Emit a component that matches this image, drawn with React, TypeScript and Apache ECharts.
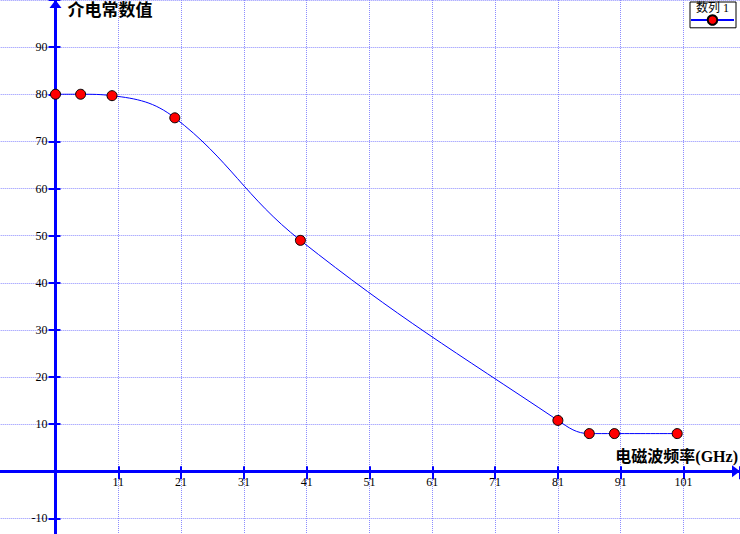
import React, { useEffect, useRef } from 'react';
import * as echarts from 'echarts';

// ---- data ----
const SERIES_NAME = '数列 1';
const X_TITLE = '电磁波频率(GHz)';
const Y_TITLE = '介电常数值';
// frequency (GHz) and dielectric constant values
const frequency = [1, 5, 10, 20, 40, 81, 86, 90, 100];
const permittivity = [80, 80, 79.7, 75, 49, 10.8, 8, 8, 8];
// the y axis crosses the x axis at x = 1; x ticks are 1, 11, 21, ... 101
const X_ORIGIN = 1;
const X_TICK_LABELS = [11, 21, 31, 41, 51, 61, 71, 81, 91, 101];
const Y_TICK_LABELS = [-10, 10, 20, 30, 40, 50, 60, 70, 80, 90];

const FONT = "'Liberation Serif', 'Noto Sans CJK SC', serif";
const AXIS_BLUE = '#0000ff';
const GRID_BLUE = '#8c8cff';

const W = 740;
const H = 534;
const GRID = { left: -7.3, right: 0, top: 0, bottom: -31.55 };
const X_MIN = -10;
const X_MAX = 109;
const Y_MIN = -20;
const Y_MAX = 100;

export default function App() {
  const ref = useRef<HTMLDivElement>(null);

  useEffect(() => {
    document.body.style.margin = '0';
    if (!ref.current) return;
    const chart = echarts.init(ref.current, undefined, { renderer: 'svg' });

    const data = frequency.map((f, i) => [f - X_ORIGIN, permittivity[i]]);

    // the axes cross at (x = X_ORIGIN, y = 0): shift them from the grid edges
    const pxPerX = (W - GRID.left - GRID.right) / (X_MAX - X_MIN);
    const pxPerY = (H - GRID.top - GRID.bottom) / (Y_MAX - Y_MIN);
    const xAxisOffset = -(0 - Y_MIN) * pxPerY;
    const yAxisOffset = -(0 - X_MIN) * pxPerX;

    const xLabelFmt = (v: number) => {
      const real = Math.round(v + X_ORIGIN);
      return X_TICK_LABELS.includes(real) ? String(real) : '';
    };
    const yLabelFmt = (v: number) =>
      Y_TICK_LABELS.includes(Math.round(v)) ? String(Math.round(v)) : '';

    const labelStyle = { color: '#000000', fontFamily: FONT, fontSize: 12 };
    const dotted = { color: GRID_BLUE, width: 1, type: [1, 1] };

    const option: any = {
      animation: false,
      backgroundColor: '#ffffff',
      grid: { ...GRID, containLabel: false, outerBoundsMode: 'none' },
      legend: [
        {
          data: [SERIES_NAME],
          left: 690,
          top: 2,
          padding: [12, 1, 2, 0],
          itemWidth: 43,
          itemHeight: 12,
          itemGap: 0,
          formatter: () => '',
          borderColor: '#000000',
          borderWidth: 1,
          backgroundColor: '#ffffff',
          selectedMode: false,
          textStyle: { fontSize: 1 },
          z: 10,
        },
        {
          data: [SERIES_NAME],
          left: 690,
          top: 2,
          padding: 0,
          itemWidth: 0,
          itemHeight: 0,
          itemGap: 0,
          icon: 'rect',
          selectedMode: false,
          textStyle: { fontFamily: FONT, fontSize: 12, color: '#000000' },
          z: 11,
        },
      ],
      xAxis: [
        {
          type: 'value',
          position: 'bottom',
          offset: xAxisOffset,
          min: X_MIN,
          max: X_MAX,
          interval: 10,
          name: X_TITLE,
          nameLocation: 'end',
          nameGap: 0,
          nameMoveOverlap: false,
          nameTextStyle: {
            fontFamily: FONT,
            fontSize: 16,
            fontWeight: 'bold',
            color: '#000000',
            align: 'right',
            verticalAlign: 'bottom',
            padding: [0, 2, 7, 0],
          },
          axisLine: {
            onZero: false,
            symbol: ['none', 'triangle'],
            symbolSize: [12, 8],
            symbolOffset: [0, -4],
            lineStyle: { color: AXIS_BLUE, width: 3 },
          },
          axisTick: { show: true, length: 8, lineStyle: { color: AXIS_BLUE, width: 2 } },
          axisLabel: { margin: 5, ...labelStyle, formatter: xLabelFmt },
          splitLine: { show: true, lineStyle: dotted },
          z: 3,
        },
        {
          // inner half of the crossing tick marks
          type: 'value',
          position: 'bottom',
          offset: xAxisOffset,
          min: X_MIN,
          max: X_MAX,
          interval: 10,
          axisLine: { show: false, onZero: false },
          axisTick: { show: true, inside: true, length: 5, lineStyle: { color: AXIS_BLUE, width: 2 } },
          axisLabel: { show: false },
          splitLine: { show: false },
          z: 3,
        },
      ],
      yAxis: [
        {
          type: 'value',
          position: 'left',
          offset: yAxisOffset,
          min: Y_MIN,
          max: Y_MAX,
          interval: 10,
          name: Y_TITLE,
          nameLocation: 'end',
          nameGap: 0,
          nameMoveOverlap: false,
          nameTextStyle: {
            fontFamily: FONT,
            fontSize: 17,
            fontWeight: 'bold',
            color: '#000000',
            align: 'left',
            verticalAlign: 'top',
            padding: [2, 0, 0, 12],
          },
          axisLine: {
            onZero: false,
            symbol: ['none', 'triangle'],
            symbolSize: [12, 8],
            symbolOffset: [0, -4],
            lineStyle: { color: AXIS_BLUE, width: 3 },
          },
          axisTick: { show: true, length: 7, lineStyle: { color: AXIS_BLUE, width: 2 } },
          axisLabel: { margin: 8, ...labelStyle, formatter: yLabelFmt },
          splitLine: { show: true, lineStyle: dotted },
          z: 3,
        },
        {
          type: 'value',
          position: 'left',
          offset: yAxisOffset,
          min: Y_MIN,
          max: Y_MAX,
          interval: 10,
          axisLine: { show: false, onZero: false },
          axisTick: { show: true, inside: true, length: 5, lineStyle: { color: AXIS_BLUE, width: 2 } },
          axisLabel: { show: false },
          splitLine: { show: false },
          z: 3,
        },
      ],
      series: [
        {
          type: 'line',
          name: SERIES_NAME,
          xAxisIndex: 0,
          yAxisIndex: 0,
          data,
          smooth: 0.4,
          symbol: 'circle',
          symbolSize: 10,
          showAllSymbol: true,
          clip: false,
          itemStyle: { color: '#ff0000', borderColor: '#000000', borderWidth: 1 },
          lineStyle: { color: AXIS_BLUE, width: 1 },
          z: 5,
        },
      ],
    };

    chart.setOption(option);
    return () => chart.dispose();
  }, []);

  return (
    <div
      ref={ref}
      style={{ position: 'absolute', left: 0, top: 0, width: W, height: H }}
    />
  );
}
